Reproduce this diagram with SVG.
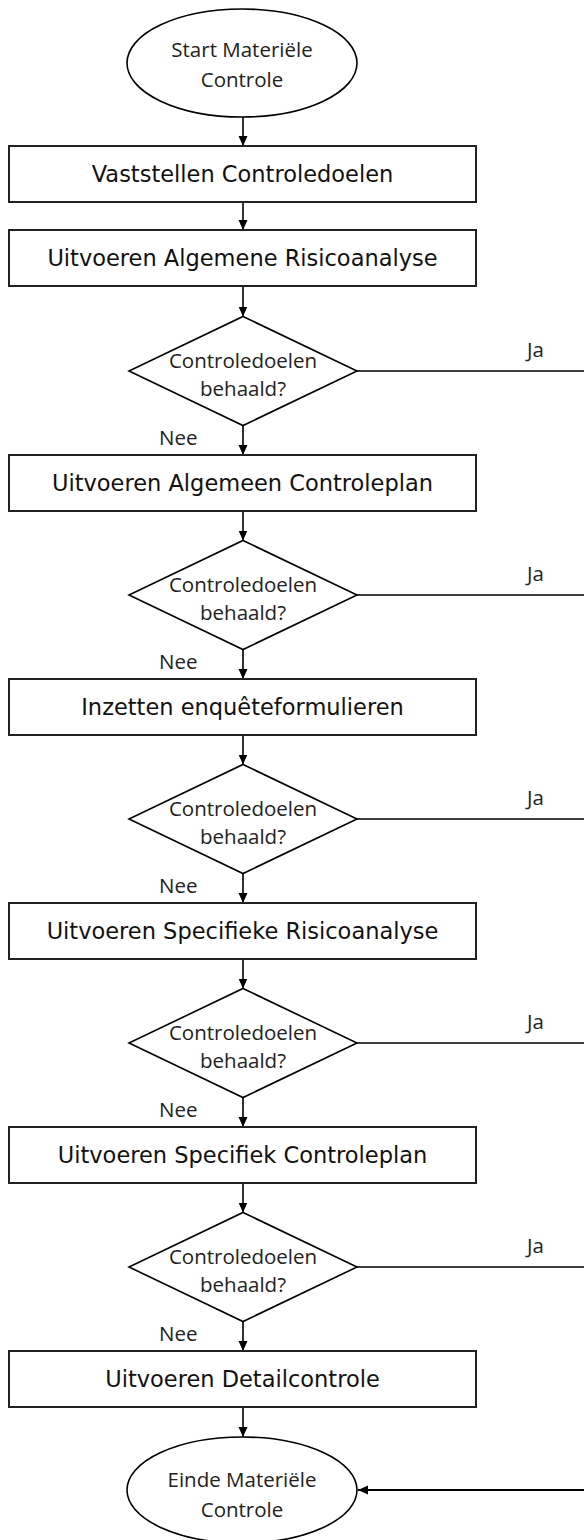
<svg xmlns="http://www.w3.org/2000/svg" width="584" height="1540" viewBox="0 0 584 1540">
<defs>
<marker id="arr" markerWidth="10" markerHeight="10" refX="10" refY="5" orient="auto" markerUnits="userSpaceOnUse">
<path d="M0,0.5 L10,5 L0,9.5 Z" fill="#000"/>
</marker>
<style>
.shape{fill:#fff;stroke:#000;stroke-width:1.6}
.box{fill:#fff;stroke:#222;stroke-width:2}
.bt{font-family:"DejaVu Sans",Verdana,sans-serif;font-size:22.5px;fill:#111;text-anchor:middle}
.dt{font-family:"Open Sans","Liberation Sans",sans-serif;font-size:20.5px;fill:#222;text-anchor:middle}
.lbl{font-family:"Open Sans","Liberation Sans",sans-serif;font-size:20.5px;fill:#222}
.c{fill:none;stroke:#000;stroke-width:1.6}
</style>
</defs>
<rect width="584" height="1540" fill="#fff"/>
<g id="connectors">
<line class="c" x1="243" y1="117" x2="243" y2="146" marker-end="url(#arr)"/>
<line class="c" x1="243" y1="202" x2="243" y2="230" marker-end="url(#arr)"/>
<line class="c" x1="243" y1="286" x2="243" y2="316.5" marker-end="url(#arr)"/>
<line class="c" x1="243" y1="425.5" x2="243" y2="455" marker-end="url(#arr)"/>
<line class="c" x1="243" y1="511" x2="243" y2="540.5" marker-end="url(#arr)"/>
<line class="c" x1="243" y1="649.5" x2="243" y2="679" marker-end="url(#arr)"/>
<line class="c" x1="243" y1="735" x2="243" y2="764.5" marker-end="url(#arr)"/>
<line class="c" x1="243" y1="873.5" x2="243" y2="903" marker-end="url(#arr)"/>
<line class="c" x1="243" y1="959" x2="243" y2="988.5" marker-end="url(#arr)"/>
<line class="c" x1="243" y1="1097.5" x2="243" y2="1127" marker-end="url(#arr)"/>
<line class="c" x1="243" y1="1183" x2="243" y2="1212.5" marker-end="url(#arr)"/>
<line class="c" x1="243" y1="1321.5" x2="243" y2="1351" marker-end="url(#arr)"/>
<line class="c" x1="243" y1="1407" x2="243" y2="1437" marker-end="url(#arr)"/>
<line class="c" x1="357" y1="371" x2="584" y2="371"/>
<line class="c" x1="357" y1="595" x2="584" y2="595"/>
<line class="c" x1="357" y1="819" x2="584" y2="819"/>
<line class="c" x1="357" y1="1043" x2="584" y2="1043"/>
<line class="c" x1="357" y1="1267" x2="584" y2="1267"/>
<line class="c" x1="584" y1="1490" x2="358" y2="1490" marker-end="url(#arr)" style="stroke-width:2"/>
<text class="lbl" x="527" y="357">Ja</text>
<text class="lbl" x="527" y="581">Ja</text>
<text class="lbl" x="527" y="805">Ja</text>
<text class="lbl" x="527" y="1029">Ja</text>
<text class="lbl" x="527" y="1253">Ja</text>
<text class="lbl" x="159" y="445">Nee</text>
<text class="lbl" x="159" y="669">Nee</text>
<text class="lbl" x="159" y="893">Nee</text>
<text class="lbl" x="159" y="1117">Nee</text>
<text class="lbl" x="159" y="1341">Nee</text>
</g>
<g id="start">
<ellipse class="shape" cx="242" cy="63" rx="115" ry="54"/>
<text class="dt" x="242" y="57">Start Materiële</text>
<text class="dt" x="242" y="87">Controle</text>
</g>
<g id="box1">
<rect class="box" x="9" y="146" width="467" height="56"/>
<text class="bt" x="242.5" y="182">Vaststellen Controledoelen</text>
</g>
<g id="box2">
<rect class="box" x="9" y="230" width="467" height="56"/>
<text class="bt" x="242.5" y="266">Uitvoeren Algemene Risicoanalyse</text>
</g>
<g id="dec1">
<polygon class="shape" points="243,316.5 357,371 243,425.5 129,371"/>
<text class="dt" x="243" y="368">Controledoelen</text>
<text class="dt" x="243" y="396">behaald?</text>
</g>
<g id="box3">
<rect class="box" x="9" y="455" width="467" height="56"/>
<text class="bt" x="242.5" y="491">Uitvoeren Algemeen Controleplan</text>
</g>
<g id="dec2">
<polygon class="shape" points="243,540.5 357,595 243,649.5 129,595"/>
<text class="dt" x="243" y="592">Controledoelen</text>
<text class="dt" x="243" y="620">behaald?</text>
</g>
<g id="box4">
<rect class="box" x="9" y="679" width="467" height="56"/>
<text class="bt" x="242.5" y="715">Inzetten enquêteformulieren</text>
</g>
<g id="dec3">
<polygon class="shape" points="243,764.5 357,819 243,873.5 129,819"/>
<text class="dt" x="243" y="816">Controledoelen</text>
<text class="dt" x="243" y="844">behaald?</text>
</g>
<g id="box5">
<rect class="box" x="9" y="903" width="467" height="56"/>
<text class="bt" x="242.5" y="939">Uitvoeren Specifieke Risicoanalyse</text>
</g>
<g id="dec4">
<polygon class="shape" points="243,988.5 357,1043 243,1097.5 129,1043"/>
<text class="dt" x="243" y="1040">Controledoelen</text>
<text class="dt" x="243" y="1068">behaald?</text>
</g>
<g id="box6">
<rect class="box" x="9" y="1127" width="467" height="56"/>
<text class="bt" x="242.5" y="1163">Uitvoeren Specifiek Controleplan</text>
</g>
<g id="dec5">
<polygon class="shape" points="243,1212.5 357,1267 243,1321.5 129,1267"/>
<text class="dt" x="243" y="1264">Controledoelen</text>
<text class="dt" x="243" y="1292">behaald?</text>
</g>
<g id="box7">
<rect class="box" x="9" y="1351" width="467" height="56"/>
<text class="bt" x="242.5" y="1387">Uitvoeren Detailcontrole</text>
</g>
<g id="end">
<ellipse class="shape" cx="242" cy="1490" rx="115" ry="53"/>
<text class="dt" x="242" y="1487">Einde Materiële</text>
<text class="dt" x="242" y="1517">Controle</text>
</g>
</svg>
